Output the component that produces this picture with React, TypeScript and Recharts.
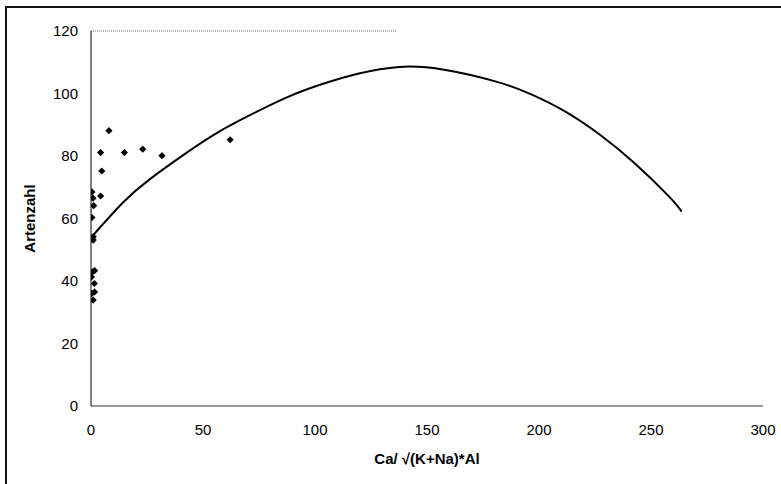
import React from 'react';
import { ComposedChart, Scatter, Line, XAxis, YAxis, ReferenceLine, Label } from 'recharts';

// Scatter values (x = Ca/√(K+Na)*Al, y = Artenzahl)
const pointX = [8.0, 4.3, 14.9, 23.1, 31.7, 62.1, 4.8, 0.4, 0.9, 4.3, 1.2, 0.4, 1.0, 1.0, 0.6, 1.6, 0.2, 1.5, 1.6, 0.4, 1.0];
const pointY = [88.1, 81.1, 81.1, 82.2, 80.1, 85.2, 75.2, 68.5, 66.5, 67.2, 64.1, 60.3, 54.2, 53.1, 42.9, 43.3, 41.3, 39.2, 36.5, 36.0, 33.9];

// Trend curve, points
const curveX = [1.0, 14.4, 26.3, 41.8, 57.2, 72.7, 88.2, 103.6, 119.1, 137.6, 157.7, 180.9, 196.3, 211.8, 227.2, 242.7, 258.1, 263.7];
const curveY = [54.7, 65.2, 72.6, 80.6, 87.8, 93.7, 99.0, 103.1, 106.3, 108.5, 107.6, 103.8, 99.8, 94.2, 86.8, 77.7, 67.0, 62.2];

const xTicks = [0, 50, 100, 150, 200, 250, 300];
const yTicks = [0, 20, 40, 60, 80, 100, 120];

const points = pointX.map((x, i) => ({ x, y: pointY[i] }));
const curve = curveX.map((x, i) => ({ x, y: curveY[i] }));

const Diamond = (props: any) => {
  const { cx, cy } = props;
  if (cx == null || cy == null) return null;
  const r = 3.6;
  return (
    <polygon
      points={`${cx},${cy - r} ${cx + r},${cy} ${cx},${cy + r} ${cx - r},${cy}`}
      fill="#000"
    />
  );
};

const tickStyle = { fill: '#000', fontSize: 15, fontFamily: 'Liberation Sans, Arial, sans-serif' };

export default function App() {
  return (
    <div style={{ position: 'absolute', left: 0, top: 0, width: 781, height: 484, background: '#fff', overflow: 'hidden' }}>
      {/* scanned frame: left and top edges only */}
      <div
        style={{
          position: 'absolute',
          left: 5,
          top: 6,
          width: 776,
          height: 478,
          borderLeft: '2px solid #111',
          borderTop: '2px solid #111',
        }}
      />
      <ComposedChart
        width={781}
        height={484}
        margin={{ top: 31, right: 18, bottom: 0, left: 0 }}
        style={{ position: 'absolute', left: 0, top: 0, fontFamily: 'Liberation Sans, Arial, sans-serif' }}
      >
        <XAxis
          type="number"
          dataKey="x"
          domain={[0, 300]}
          ticks={xTicks}
          height={78}
          tickLine={false}
          tickSize={6}
          tickMargin={12}
          stroke="#333"
          tick={tickStyle}
          allowDataOverflow
        >
          <Label
            value="Ca/ √(K+Na)*Al"
            position="insideBottom"
            offset={20}
            style={{ fill: '#000', fontSize: 15, fontWeight: 'bold' }}
          />
        </XAxis>
        <YAxis
          type="number"
          dataKey="y"
          domain={[0, 120]}
          ticks={yTicks}
          width={91}
          tickLine={false}
          tickSize={6}
          tickMargin={7}
          stroke="#000"
          tick={tickStyle}
        >
          <Label
            value="Artenzahl"
            angle={-90}
            position="insideLeft"
            offset={30}
            style={{ fill: '#000', fontSize: 15, fontWeight: 'bold', textAnchor: 'middle' }}
          />
        </YAxis>
        <ReferenceLine
          segment={[{ x: 0, y: 120 }, { x: 136.6, y: 120 }]}
          stroke="#777"
          strokeDasharray="1 1"
          strokeWidth={1}
        />
        <Line
          data={curve}
          dataKey="y"
          type="natural"
          stroke="#000"
          strokeWidth={2}
          dot={false}
          activeDot={false}
          isAnimationActive={false}
        />
        <Scatter data={points} dataKey="y" shape={Diamond} isAnimationActive={false} />
      </ComposedChart>
    </div>
  );
}
